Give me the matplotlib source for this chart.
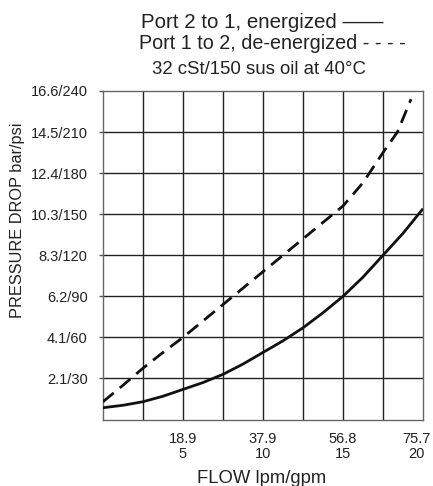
import matplotlib
matplotlib.use("Agg")
import matplotlib.pyplot as plt
import matplotlib.transforms as mtransforms

# Flow in gpm (x axis), pressure drop in psi (y axis)
solid_gpm = [0, 1.25, 2.5, 3.75, 5, 6.25, 7.5, 8.75, 10, 11.25, 12.5, 13.75, 15, 16.25, 17.5, 18.75, 20]
solid_psi = [8.6, 10.4, 13, 17, 22, 27, 33, 40.5, 49, 57.5, 67, 78, 90, 104, 120, 136, 154]

dashed_gpm = [0, 1.25, 2.5, 3.75, 5, 6.25, 7.5, 8.75, 10, 11.25, 12.5, 13.75, 15, 16.25, 17.5, 18.4, 19.25]
dashed_psi = [13, 25, 37.5, 49, 60, 72, 84, 96, 108, 120, 132, 144, 156, 173, 195, 210, 234]

x_ticks = [5, 10, 15, 20]
x_labels = ["18.9\n5", "37.9\n10", "56.8\n15", "75.7\n20"]
y_ticks = [30, 60, 90, 120, 150, 180, 210, 240]
y_labels = ["2.1/30", "4.1/60", "6.2/90", "8.3/120", "10.3/150", "12.4/180", "14.5/210", "16.6/240"]

plt.rcParams['font.family'] = ['Liberation Sans', 'DejaVu Sans']

W, H = 433, 486
fig = plt.figure(figsize=(W / 100, H / 100), dpi=100)
ax = fig.add_axes([103 / W, 66.5 / H, 320 / W, 328.5 / H])

ax.set_xlim(0, 20)
ax.set_ylim(0, 240)

# grid
for gx in [2.5 * i for i in range(1, 8)]:
    ax.axvline(gx, color='#222222', lw=1.0, zorder=1)
for gy in y_ticks[:-1]:
    ax.axhline(gy, color='#222222', lw=1.0, zorder=1)

ax.plot(solid_gpm, solid_psi, color='#111111', lw=2.0, zorder=3, solid_capstyle='butt')
ax.plot(dashed_gpm, dashed_psi, color='#111111', lw=2.0, zorder=3,
        linestyle=(0, (5, 2.8)), dash_capstyle='butt')

ax.set_xticks(x_ticks)
ax.set_xticklabels(x_labels, fontsize=10.5, linespacing=1.05)
ax.set_yticks(y_ticks)
ax.set_yticklabels(y_labels, fontsize=10.5)
ax.tick_params(axis='x', length=0, pad=9, colors='#222222')
ax.tick_params(axis='y', length=3, pad=8, width=1.0, colors='#555555', labelcolor='#222222')

# last x label sits slightly left so it stays inside the figure
last = ax.get_xticklabels()[-1]
last.set_transform(last.get_transform() + mtransforms.ScaledTranslation(-7 / 100, 0, fig.dpi_scale_trans))

for s in ax.spines.values():
    s.set_color('#666666')
    s.set_linewidth(1.0)

fig.text(262 / W, 1 - 478 / H, "FLOW lpm/gpm", ha='center', va='center', fontsize=13.3, color='#222222')
fig.text(17.5 / W, 1 - 220 / H, "PRESSURE DROP bar/psi", ha='center', va='center', rotation=90,
         fontsize=11.8, color='#222222')

fig.text(262 / W, 1 - 22 / H, "Port 2 to 1, energized ——", ha='center', va='center', fontsize=14.8, color='#222222')
fig.text(272 / W, 1 - 43.5 / H, "Port 1 to 2, de-energized - - - -", ha='center', va='center', fontsize=14.2, color='#222222')
fig.text(259 / W, 1 - 69 / H, "32 cSt/150 sus oil at 40°C", ha='center', va='center', fontsize=13.4, color='#222222')

fig.savefig("out.png", dpi=100)
